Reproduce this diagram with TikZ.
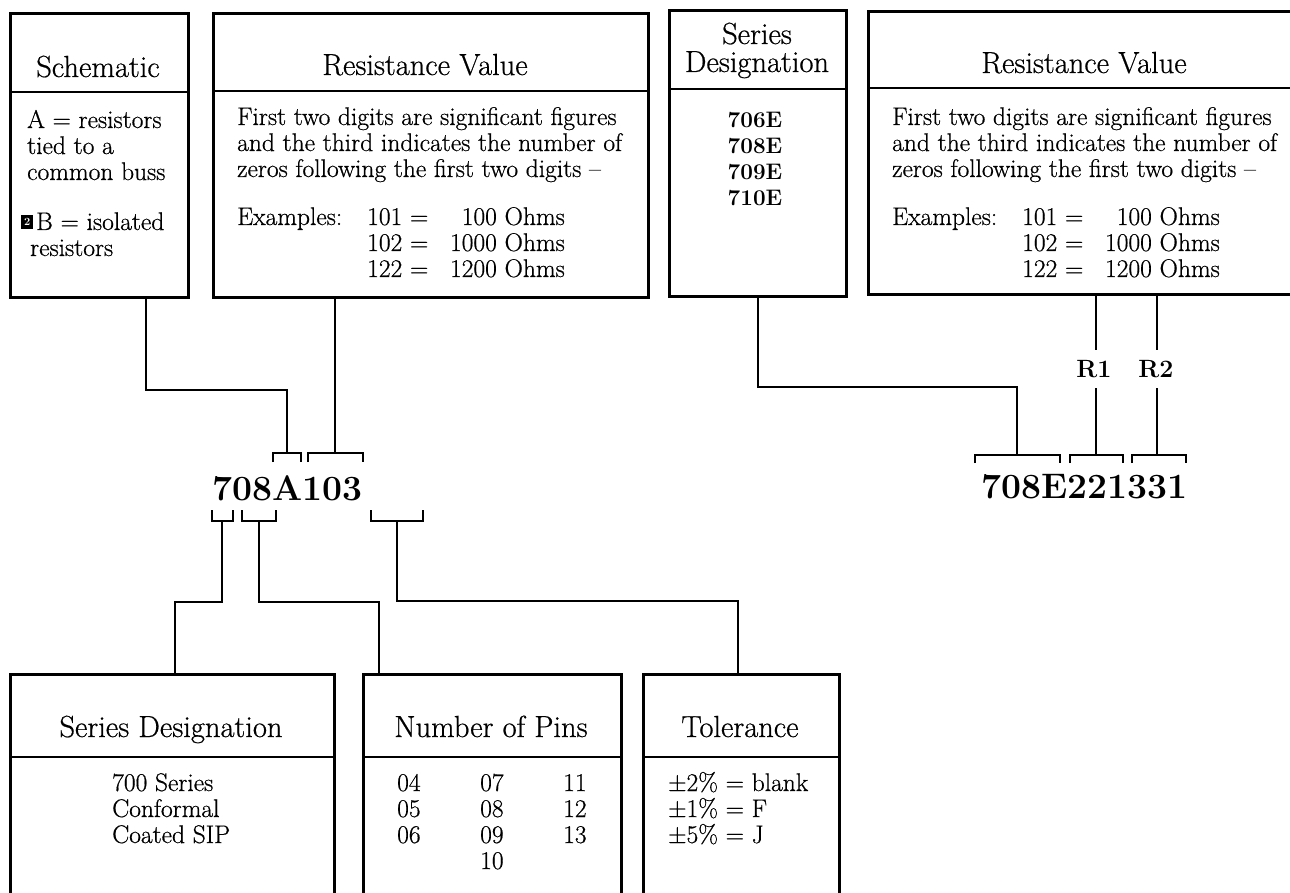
\documentclass[tikz,border=0pt]{standalone}
\usepackage{fontspec}
\usetikzlibrary{calc}
\newfontfamily\heavyrm{Latin Modern Roman}[FakeBold=0.6,Ligatures=TeX]
\newcommand\hdrfont{\heavyrm\fontsize{30.5}{32}\selectfont}
\newcommand\bodyfont{\heavyrm\fontsize{25.5}{26}\selectfont}
\newcommand\pnfont{\fontsize{35.5}{36}\selectfont\bfseries}
\newcommand\serfont{\fontsize{22.5}{26}\selectfont\bfseries}
\newcommand\rlfont{\fontsize{25}{26}\selectfont\bfseries}
\tikzset{
  box/.style={draw, line width=2.8pt, inner sep=0pt, anchor=north west},
  sep/.style={line width=2.8pt},
  wire/.style={line width=2.6pt},
  hd/.style={font=\hdrfont, inner sep=0pt, anchor=base},
  bt/.style={font=\bodyfont, inner sep=0pt, anchor=base west},
  btr/.style={font=\bodyfont, inner sep=0pt, anchor=base east},
  pnum/.style={font=\pnfont, inner sep=0pt, anchor=base west},
  serl/.style={font=\serfont, inner sep=0pt, anchor=base},
  rlab/.style={font=\rlfont, inner sep=0pt, minimum height=38pt},
}
\begin{document}
\begin{tikzpicture}[x=1pt,y=-1pt]
\clip (0,0) rectangle (1290,893);
\fill[white] (0,0) rectangle (1290,893);

% ---------- top boxes ----------
\node[box, minimum width=178pt, minimum height=284pt] (sch) at (9,12) {};
\node[box, minimum width=435pt, minimum height=284pt] (resL) at (212,12) {};
\node[box, minimum width=177pt, minimum height=286pt] (ser) at (668,9) {};
\node[box, minimum width=435pt, minimum height=283pt] (resR) at (867,10) {};
\draw[sep] (sch.west |- 0,92) -- (sch.east |- 0,92);
\draw[sep] (resL.west |- 0,91) -- (resL.east |- 0,91);
\draw[sep] (ser.west |- 0,89) -- (ser.east |- 0,89);
\draw[sep] (resR.west |- 0,88) -- (resR.east |- 0,88);

% headers
\node[hd] (hSch) at (98,77) {Schematic};
\node[hd] (hResL) at (425,75) {Resistance Value};
\node[hd] (hSer1) at (757,44) {Series};
\node[hd] (hSer2) at (757,72) {Designation};
\node[hd] (hResR) at (1084,73) {Resistance Value};

% schematic body
\node[bt] (s1) at (27,128) {A = resistors};
\node[bt] (s2) at (27,154) {tied to a};
\node[bt] (s3) at (27,180) {common buss};
\node[fill=black, text=white, inner sep=0pt, minimum width=12pt, minimum height=14pt,
      font=\bfseries\fontsize{11}{11}\selectfont, anchor=south west] (sq) at (21,229) {2};
\node[bt] (s4) at (36,230) {B = isolated};
\node[bt] (s5) at (30,256) {resistors};

% resistance value bodies
\foreach \dx/\nm in {0/L,655/R}{
  \node[bt] (a1\nm) at (237+\dx,125) {First two digits are significant figures};
  \node[bt] (a2\nm) at (237+\dx,151) {and the third indicates the number of};
  \node[bt] (a3\nm) at (237+\dx,177) {zeros following the first two digits –};
  \node[bt] (ex\nm) at (237+\dx,225) {Examples:};
  \node[bt] (e1\nm) at (367+\dx,225) {101 =};
  \node[btr] (v1\nm) at (565+\dx,225) {100 Ohms};
  \node[bt] (e2\nm) at (367+\dx,251) {102 =};
  \node[btr] (v2\nm) at (565+\dx,251) {1000 Ohms};
  \node[bt] (e3\nm) at (367+\dx,277) {122 =};
  \node[btr] (v3\nm) at (565+\dx,277) {1200 Ohms};
}

% series list
\node[serl] (l1) at (755,128) {706E};
\node[serl] (l2) at (755,154) {708E};
\node[serl] (l3) at (755,180) {709E};
\node[serl] (l4) at (755,206) {710E};

% ---------- part numbers ----------
\node[pnum] (pA) at (212,500) {708A103};
\node[pnum] (pE) at (981,498) {708E221331};

% top brackets
\coordinate (bA) at (287,453);
\coordinate (bB) at (335,453);
\coordinate (bE) at (1017,455);
\coordinate (bR1) at (1096,455);
\coordinate (bR2) at (1157,455);
\draw[wire] (273,462) -- (273,453) -- (301,453) -- (301,462);
\draw[wire] (308,462) -- (308,453) -- (363,453) -- (363,462);
\draw[wire] (975,463) -- (975,455) -- (1060,455) -- (1060,463);
\draw[wire] (1070,463) -- (1070,455) -- (1123,455) -- (1123,463);
\draw[wire] (1132,463) -- (1132,455) -- (1186,455) -- (1186,463);

% bottom brackets
\coordinate (ba) at (222,521);
\coordinate (bb) at (259,521);
\coordinate (bc) at (397,521);
\draw[wire] (212,510) -- (212,521) -- (233,521) -- (233,510);
\draw[wire] (242,510) -- (242,521) -- (276,521) -- (276,510);
\draw[wire] (371,510) -- (371,521) -- (423,521) -- (423,510);

% ---------- connectors top ----------
\draw[wire] ($(sch.south west)+(137,0)$) |- ($(bA)+(0,-63)$) -- (bA);
\draw[wire] (bB |- resL.south) -- (bB);
\draw[wire] (ser.south) |- ($(bE)+(0,-68)$) -- (bE);
\node[rlab] (R1) at (1094,369) {R1};
\node[rlab] (R2) at (1156,369) {R2};
\draw[wire] (bR1 |- resR.south) -- (bR1 |- R1.north);
\draw[wire] (bR1 |- R1.south) -- (bR1);
\draw[wire] (bR2 |- resR.south) -- (bR2 |- R2.north);
\draw[wire] (bR2 |- R2.south) -- (bR2);

% ---------- bottom boxes ----------
\node[box, minimum width=324pt, minimum height=260pt] (bSer) at (9,673) {};
\node[box, minimum width=258pt, minimum height=260pt] (bPin) at (362,673) {};
\node[box, minimum width=196pt, minimum height=260pt] (bTol) at (642,673) {};
\draw[sep] (bSer.west |- 0,757) -- (bSer.east |- 0,757);
\draw[sep] (bPin.west |- 0,757) -- (bPin.east |- 0,757);
\draw[sep] (bTol.west |- 0,757) -- (bTol.east |- 0,757);

\node[hd] (hbSer) at (171,737) {Series Designation};
\node[hd] (hbPin) at (491,737) {Number of Pins};
\node[hd] (hbTol) at (740,737) {Tolerance};

\node[bt] (d1) at (112,791) {700 Series};
\node[bt] (d2) at (112,817) {Conformal};
\node[bt] (d3) at (112,843) {Coated SIP};

\node[bt] (p1) at (397,791) {04};
\node[bt] (p2) at (397,817) {05};
\node[bt] (p3) at (397,843) {06};
\node[bt] (p4) at (480,791) {07};
\node[bt] (p5) at (480,817) {08};
\node[bt] (p6) at (480,843) {09};
\node[bt] (p7) at (480,869) {10};
\node[bt] (p8) at (563,791) {11};
\node[bt] (p9) at (563,817) {12};
\node[bt] (p10) at (563,843) {13};

\node[bt] (t1) at (668,791) {±2\% = blank};
\node[bt] (t2) at (668,817) {±1\% = F};
\node[bt] (t3) at (668,843) {±5\% = J};

% ---------- connectors bottom ----------
\draw[wire] (ba) -- ++(0,81) -| ($(bSer.north west)+(166,0)$);
\draw[wire] (bb) -- ++(0,81) -| ($(bPin.north west)+(17,0)$);
\draw[wire] (bc) -- ++(0,80) -| ($(bTol.north west)+(96,0)$);
\end{tikzpicture}
\end{document}
